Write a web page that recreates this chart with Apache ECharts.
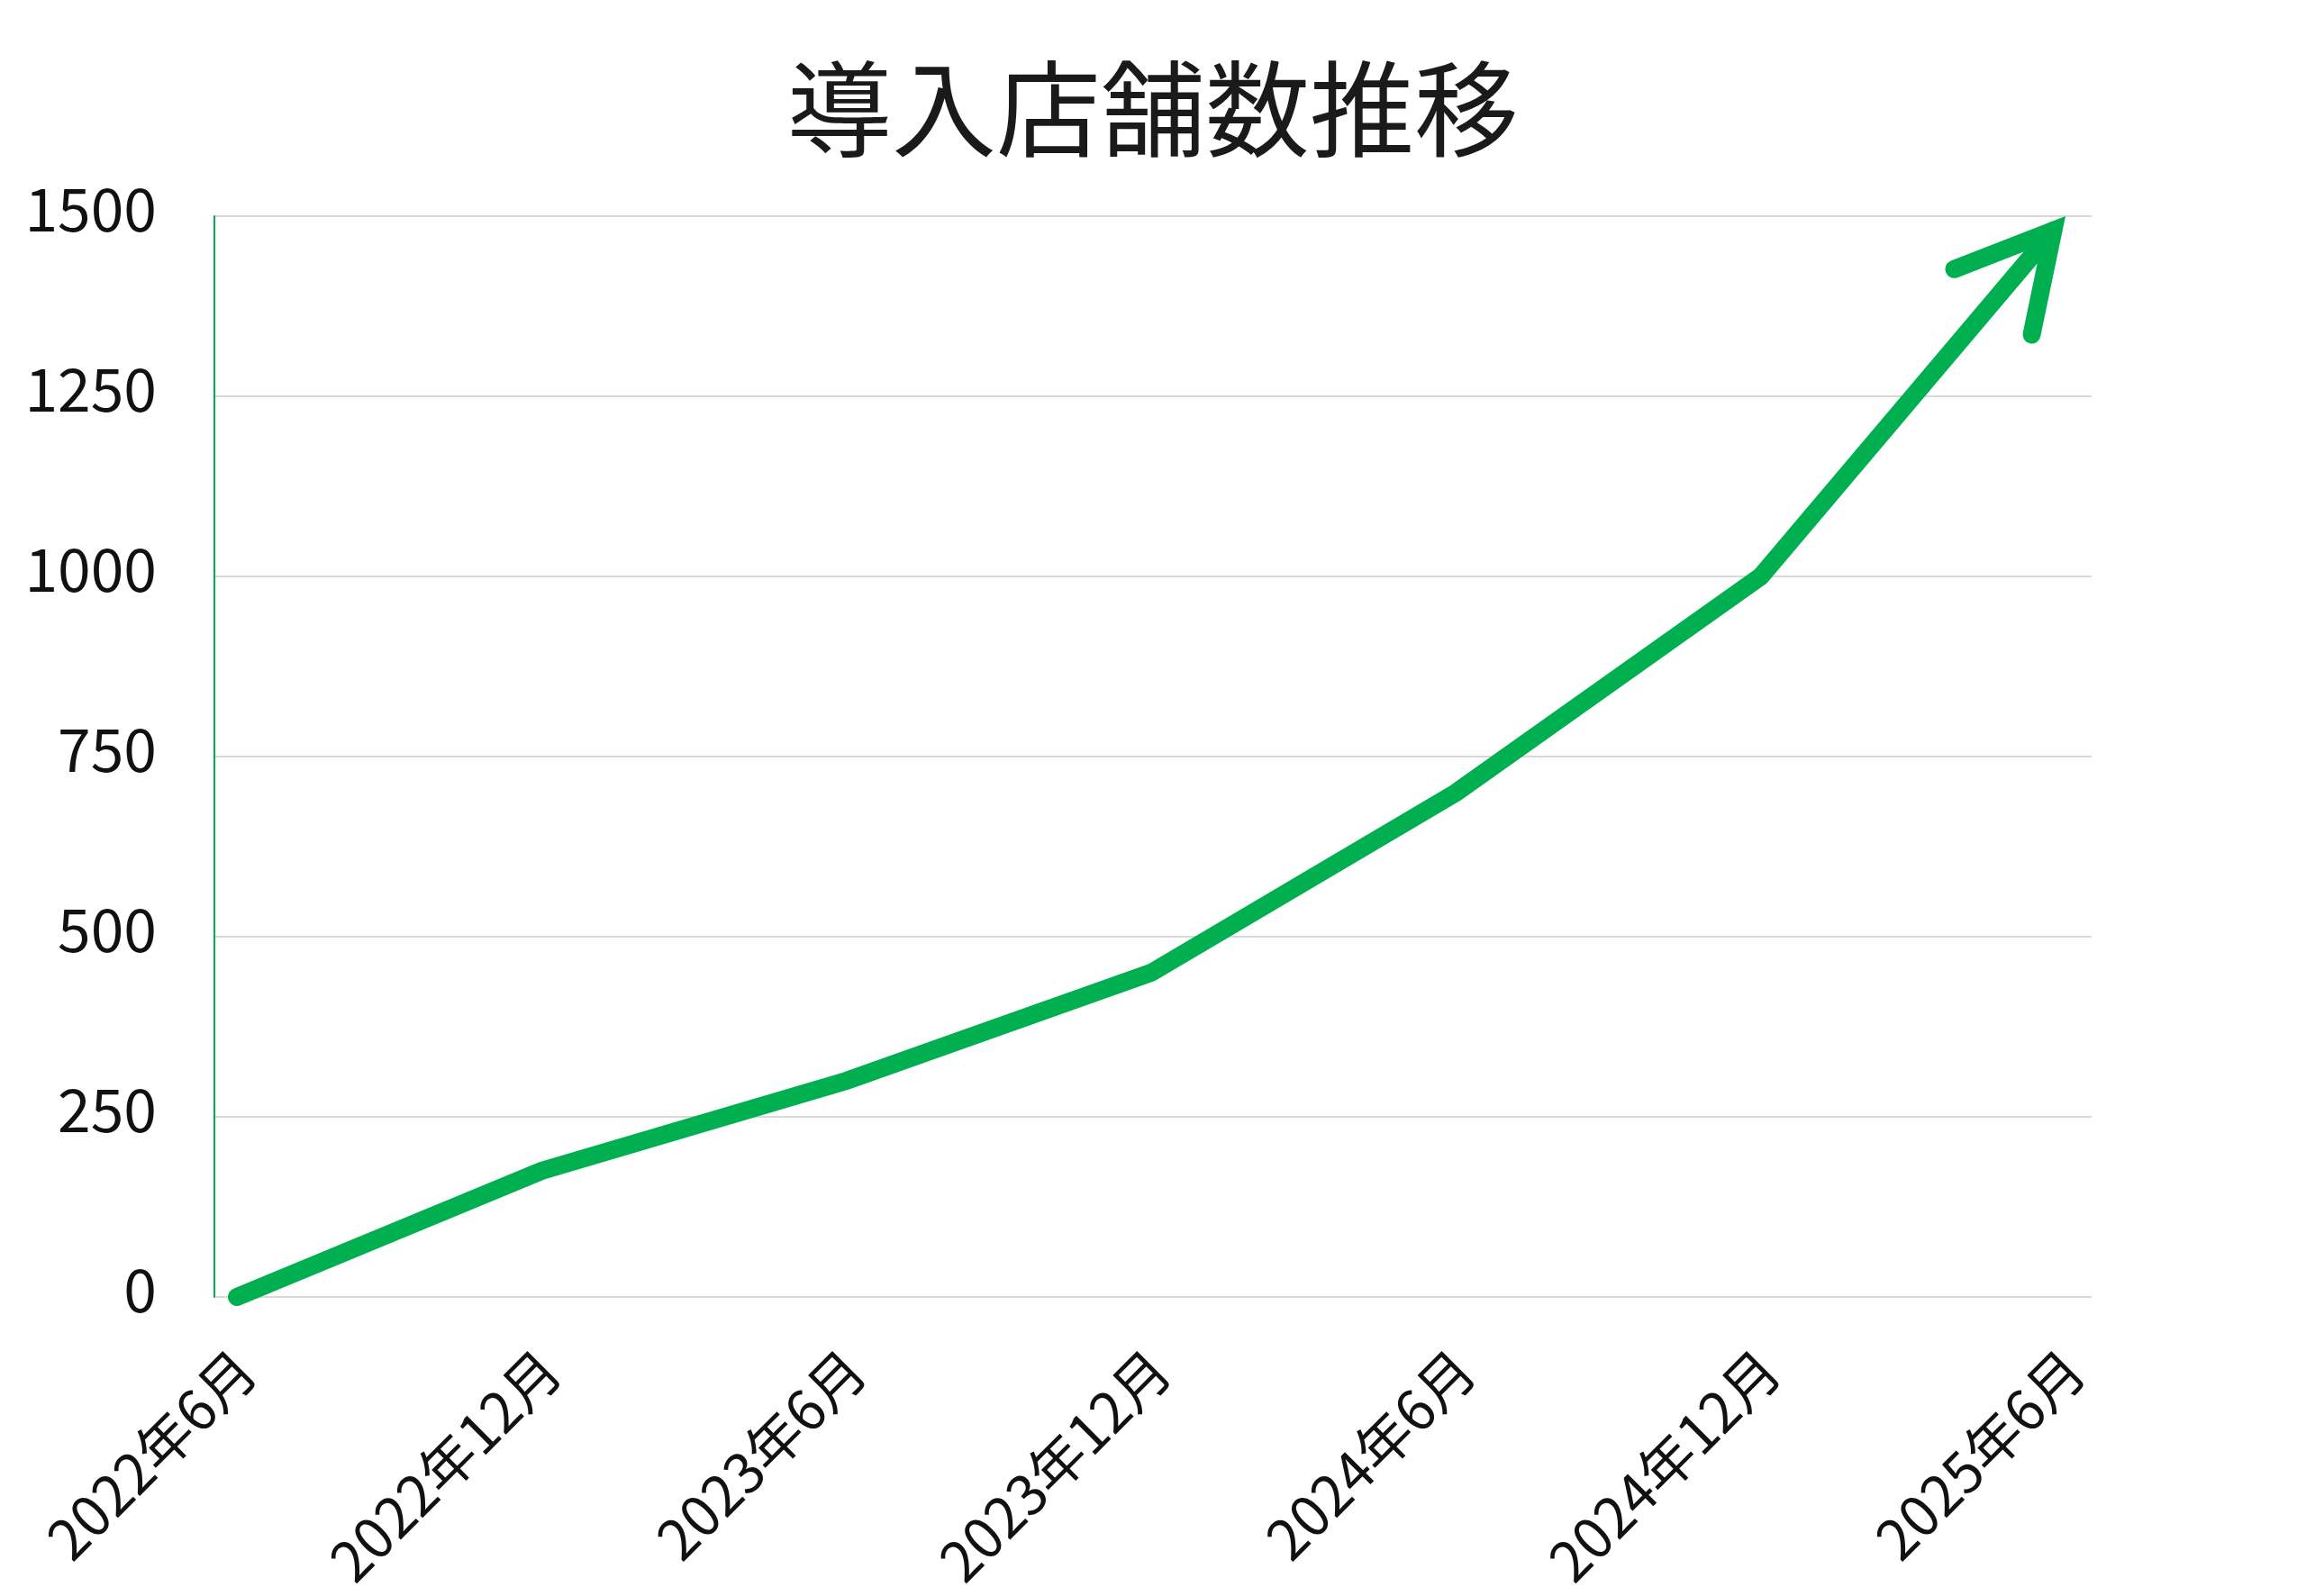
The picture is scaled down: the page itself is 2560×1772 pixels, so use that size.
<!DOCTYPE html>
<html>
<head>
<meta charset="utf-8">
<script src="https://cdn.jsdelivr.net/npm/echarts@6/dist/echarts.min.js"></script>
<style>
html,body{margin:0;padding:0;background:#fff;}
#chart{width:2560px;height:1772px;}
</style>
</head>
<body>
<div id="chart"></div>
<script>
// ---- data ----
const titleText = '導入店舗数推移';
const categories = ['2022年6月', '2022年12月', '2023年6月', '2023年12月', '2024年6月', '2024年12月', '2025年6月'];
const storeCounts = [0, 175, 300, 450, 700, 1000, 1500];
const yTicks = [0, 250, 500, 750, 1000, 1250, 1500];

const GREEN = '#00B050';
const FONT = '"Noto Sans CJK JP", "Noto Sans", sans-serif';
const LINE_W = 20;

const n = storeCounts.length;
const idx = categories.map((c, i) => i);
// main line: every point except the last segment, which is drawn with the arrow
const lineData = storeCounts.slice(0, n - 1).map((v, i) => [idx[i], v]);
// arrow item: [x, y, prevX, prevY]
const arrowData = [[idx[n - 1], storeCounts[n - 1], idx[n - 2], storeCounts[n - 2]]];

const chart = echarts.init(document.getElementById('chart'), null, {renderer: 'canvas'});

function renderArrow(params, api) {
  const tip = api.coord([api.value(0), api.value(1)]);
  const prev = api.coord([api.value(2), api.value(3)]);
  const dx = tip[0] - prev[0], dy = tip[1] - prev[1];
  const L = Math.hypot(dx, dy);
  const ux = dx / L, uy = dy / L;
  const half = 28.5 * Math.PI / 180;
  const miter = (LINE_W / 2) / Math.sin(half);
  const vx = tip[0] - ux * miter, vy = tip[1] - uy * miter;
  const bx = -ux, by = -uy;
  const barbLen = 118;
  function rot(a) {
    const c = Math.cos(a), s = Math.sin(a);
    return [vx + (bx * c - by * s) * barbLen, vy + (bx * s + by * c) * barbLen];
  }
  const left = rot(half);
  const right = rot(-half);
  const style = {stroke: GREEN, lineWidth: LINE_W, fill: null, lineCap: 'round', lineJoin: 'miter', miterLimit: 10};
  return {
    type: 'group',
    children: [
      {type: 'polyline', shape: {points: [prev, [vx, vy]]}, style: Object.assign({}, style)},
      {type: 'polyline', shape: {points: [left, [vx, vy], right]}, style: Object.assign({}, style)}
    ]
  };
}

const option = {
  backgroundColor: '#ffffff',
  animation: false,
  title: {
    text: titleText,
    left: 'center',
    top: 58,
    textStyle: {fontFamily: FONT, fontSize: 116, fontWeight: 'normal', color: '#1a1a1a'}
  },
  grid: {left: 238, right: 238, top: 240, bottom: 332},
  xAxis: {
    type: 'value',
    min: -0.0739,
    max: 6.0857,
    axisLine: {show: false},
    axisTick: {show: false},
    splitLine: {show: false},
    axisLabel: {
      customValues: idx,
      formatter: (v) => categories[Math.round(v)] || '',
      rotate: 45,
      margin: 60,
      verticalAlign: 'top',
      lineHeight: 28,
      fontFamily: FONT,
      fontSize: 62,
      color: '#111'
    }
  },
  yAxis: {
    type: 'value',
    min: yTicks[0],
    max: yTicks[yTicks.length - 1],
    interval: yTicks[1] - yTicks[0],
    axisLine: {show: true, onZero: false, lineStyle: {color: GREEN, width: 2}},
    axisTick: {show: false},
    splitLine: {show: true, lineStyle: {color: '#d9d9d9', width: 2}},
    axisLabel: {
      margin: 64,
      formatter: (v) => String(v),
      verticalAlign: 'bottom',
      lineHeight: 16,
      fontFamily: FONT,
      fontSize: 66,
      color: '#111'
    }
  },
  series: [
    {
      type: 'line',
      data: lineData,
      symbol: 'none',
      clip: true,
      lineStyle: {color: GREEN, width: LINE_W, cap: 'round', join: 'miter'},
      z: 3
    },
    {
      type: 'custom',
      data: arrowData,
      clip: false,
      renderItem: renderArrow,
      z: 3
    }
  ]
};
chart.setOption(option);
</script>
</body>
</html>
